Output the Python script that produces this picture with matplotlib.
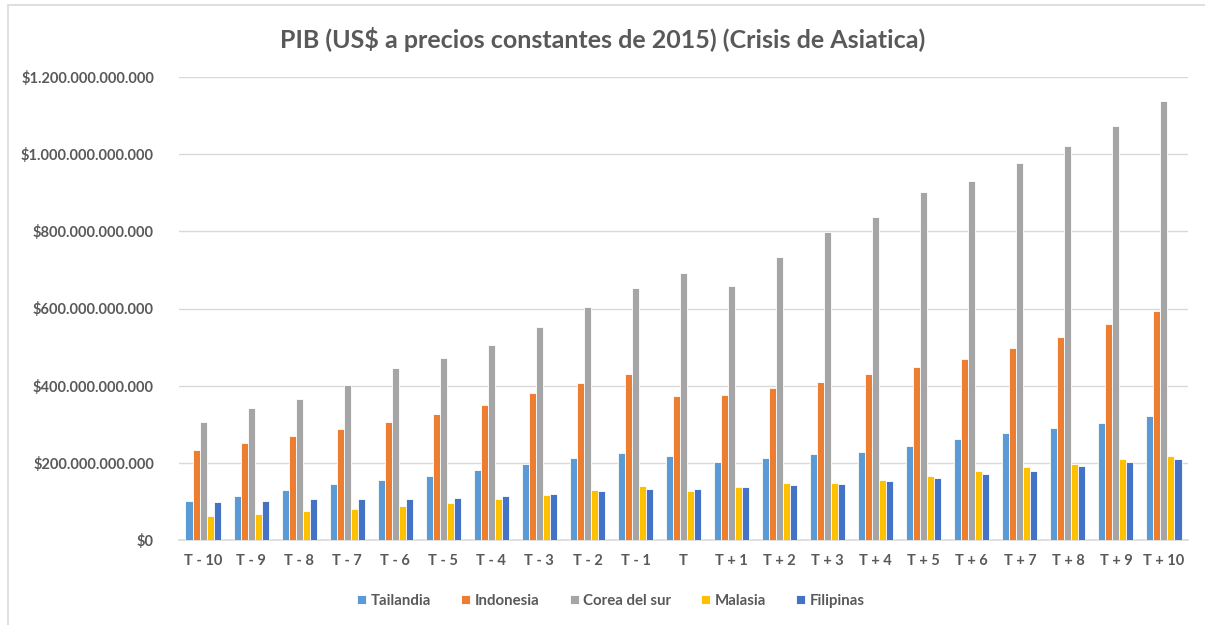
import numpy as np
import matplotlib.pyplot as plt
from matplotlib.patches import Rectangle
from matplotlib.ticker import FuncFormatter

# Data (miles de millones US$ constantes 2015)
periods = ["T - 10", "T - 9", "T - 8", "T - 7", "T - 6", "T - 5", "T - 4", "T - 3", "T - 2", "T - 1", "T",
           "T + 1", "T + 2", "T + 3", "T + 4", "T + 5", "T + 6", "T + 7", "T + 8", "T + 9", "T + 10"]
tailandia = [100, 114, 129, 144, 156, 167, 182, 197, 213, 226, 219,
             202, 212, 222, 229, 244, 261, 277, 290, 303, 321]
indonesia = [232, 251, 269, 288, 307, 327, 351, 380, 408, 429, 373,
             375, 395, 409, 429, 448, 470, 497, 526, 560, 593]
corea = [305, 342, 366, 401, 446, 472, 505, 551, 604, 653, 691,
         658, 733, 798, 837, 902, 931, 978, 1022, 1074, 1139]
malasia = [62, 68, 74, 81, 88, 97, 107, 117, 129, 140, 127,
           137, 149, 149, 156, 166, 179, 188, 198, 210, 218]
filipinas = [98, 102, 107, 105, 107, 110, 114, 120, 127, 132, 132,
             137, 142, 146, 152, 161, 171, 180, 191, 202, 209]

series = [("Tailandia", tailandia, "#5B9BD5"),
          ("Indonesia", indonesia, "#ED7D31"),
          ("Corea del sur", corea, "#A5A5A5"),
          ("Malasia", malasia, "#FFC000"),
          ("Filipinas", filipinas, "#4472C4")]

plt.rcParams['font.family'] = ['Lato', 'DejaVu Sans']
txt = "#595959"

fig = plt.figure(figsize=(12.05, 6.25), dpi=100)
ax = fig.add_axes([179/1205, 1 - 540/625, (1188-179)/1205, (540-77)/625])

# chart frame (cropped at right/bottom like the screenshot)
fig.patches.append(Rectangle((8/1205, -0.1), 1.2, 1 - 5/625 + 0.1, transform=fig.transFigure,
                             fill=False, edgecolor="#D9D9D9", linewidth=1.2))

x = np.arange(len(periods))
w = 0.146
for i, (name, vals, col) in enumerate(series):
    ax.bar(x + (i - 2) * w, np.array(vals) * 1e9, width=w, color=col,
           edgecolor="white", linewidth=0.6, label=name, zorder=3)

ax.set_xlim(-0.5, len(periods) - 0.5)
ax.set_ylim(0, 1.2e12)
ax.set_yticks(np.arange(0, 1.2e12 + 1, 2e11))
ax.yaxis.set_major_formatter(FuncFormatter(lambda v, p: "$" + f"{v:,.0f}".replace(",", ".")))
ax.set_xticks(x)
ax.set_xticklabels(periods)
ax.tick_params(axis="both", length=0, colors=txt, labelsize=10.5)
ax.tick_params(axis="y", pad=18)
ax.tick_params(axis="x", pad=10)
for lbl in ax.get_xticklabels() + ax.get_yticklabels():
    lbl.set_fontweight("bold")

ax.grid(axis="y", color="#D9D9D9", linewidth=1, zorder=0)
for s in ["top", "right", "left"]:
    ax.spines[s].set_visible(False)
ax.spines["bottom"].set_color("#D9D9D9")
ax.spines["bottom"].set_linewidth(1.2)

fig.text(0.5, 1 - 40/625, "PIB (US$ a precios constantes de 2015) (Crisis de Asiatica)",
         ha="center", va="center", fontsize=18, fontweight="bold", color=txt)

leg = fig.legend(loc="center", bbox_to_anchor=(611/1205, 1 - 601/625), ncol=5, frameon=False,
                 handlelength=0.6, handleheight=0.6, handletextpad=0.3, columnspacing=2.0,
                 prop={"size": 10.8, "weight": "bold"})
for t in leg.get_texts():
    t.set_color(txt)

fig.savefig("out.png", dpi=100)
